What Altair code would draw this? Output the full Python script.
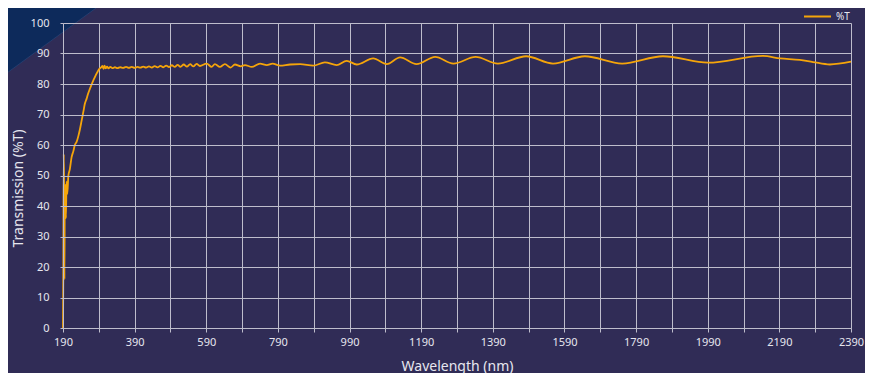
import altair as alt
import pandas as pd

# ---- data ----
wavelength = [190, 191, 192, 193, 194, 195, 196, 197, 198, 200, 202, 205, 209, 214, 219, 223, 228,
              233, 237, 242, 247, 251, 256, 260, 265, 270, 275, 280, 284, 288, 291, 295, 298,
              300, 303, 306, 309, 313, 317, 322, 328, 335, 342, 350, 358, 366, 374, 382, 390,
              398, 406, 414, 422, 430, 438, 446, 454, 462, 470, 478, 486, 494, 502, 510, 518,
              527, 536, 545, 554, 563, 572, 591, 605, 614, 628, 642, 658, 670, 686, 698, 717,
              740, 759, 775, 796, 824, 852, 889, 921, 954, 982, 1010, 1056, 1094, 1131, 1177,
              1229, 1280, 1342, 1404, 1483, 1558, 1647, 1751, 1865, 1991, 2144, 2192, 2247,
              2284, 2331, 2390]
transmission = [0, 20, 57, 47, 16, 45, 40, 47, 36, 48, 44, 50, 52, 56, 58, 60, 61,
                63, 65, 68, 71, 73.5, 75.2, 76.8, 78.4, 79.9, 81.3, 82.5, 83.5, 84.3, 84.9, 85.3, 85.6,
                85.9, 85.0, 86.0, 85.1, 85.7, 85.1, 85.6, 85.2, 85.5, 85.2, 85.5, 85.3, 85.6, 85.3, 85.6, 85.3,
                85.6, 85.35, 85.7, 85.35, 85.75, 85.4, 85.85, 85.45, 85.95, 85.5, 86.05, 85.55, 86.15, 85.6, 86.3, 85.65,
                86.4, 85.7, 86.5, 85.75, 86.6, 85.9, 86.7, 85.6, 86.5, 85.6, 86.5, 85.4, 86.4, 85.8, 86.2, 85.6,
                86.7, 86.2, 86.7, 86.0, 86.4, 86.5, 86.0, 87.1, 86.2, 87.6, 86.4, 88.4, 86.5, 88.7, 86.5,
                88.9, 86.7, 88.9, 86.7, 89.1, 86.7, 89.1, 86.7, 89.1, 87.0, 89.2, 88.4, 87.9,
                87.2, 86.4, 87.3]
series_name = ["%T"] * len(wavelength)
x_ticks = list(range(190, 2391, 100))
y_ticks = list(range(0, 101, 10))

BG = "#302c56"
GRID = "#bebdcc"
TXT = "#e6e6ef"
LINE = "#f5a50a"
CORNER = "#0d2a5b"
FONT = "Noto Sans"

df = pd.DataFrame({"Wavelength": wavelength, "T": transmission, "series": series_name})

corner = alt.Chart(pd.DataFrame({"k": [0]})).mark_point(
    shape="M -1 -1 L 1 -1 L -1 0.458 Z",
    filled=True, fill=CORNER, opacity=1, size=11449,
    stroke="#2f5286", strokeWidth=0.6, strokeOpacity=0.8,
).encode(x=alt.value(-9.5), y=alt.value(30.5))

line = alt.Chart(df).mark_line(strokeWidth=1.8, interpolate="monotone").encode(
    x=alt.X("Wavelength:Q",
            scale=alt.Scale(domain=[190, 2390], nice=False, zero=False),
            axis=alt.Axis(values=x_ticks, format="d",
                          labelExpr="(datum.value - 190) % 200 == 0 ? datum.label : ''",
                          title="Wavelength (nm)", titlePadding=12, labelPadding=4,
                          tickSize=4, labelFontSize=11, titleFontSize=14,
                          labelFlush=False)),
    y=alt.Y("T:Q",
            scale=alt.Scale(domain=[0, 100], nice=False),
            axis=alt.Axis(values=y_ticks, title="Transmission (%T)", zindex=1,
                          tickSize=3, labelPadding=11, labelFontSize=11,
                          titleFontSize=14, titleX=-45, titleY=165,
                          titleBaseline="middle")),
    color=alt.Color("series:N", scale=alt.Scale(range=[LINE]),
                    legend=alt.Legend(title=None, orient="none", legendX=740, legendY=-21,
                                      symbolType="stroke", symbolSize=729, symbolStrokeWidth=2,
                                      labelFontSize=10, labelColor=TXT, padding=0,
                                      labelFont=FONT)),
)

chart = alt.layer(corner, line).properties(
    width=788, height=305,
    autosize=alt.AutoSizeParams(type="none"),
    padding={"left": 55, "top": 15, "right": 14, "bottom": 45},
    background=BG,
).configure_view(stroke=None, fill=BG).configure_axis(
    gridColor=GRID, gridOpacity=1, gridWidth=1,
    domainColor=GRID, domainWidth=1, tickColor=GRID,
    labelColor=TXT, titleColor=TXT, labelFont=FONT, titleFont=FONT,
    titleFontWeight="normal",
)

chart.save("out.html", embed_options={"renderer": "svg", "actions": False})
